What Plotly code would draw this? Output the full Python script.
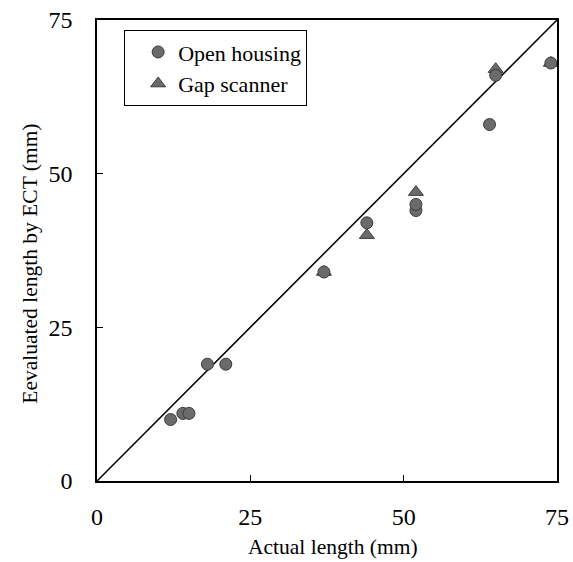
import plotly.graph_objects as go

open_x = [12, 14, 15, 18, 21, 37, 44, 52, 52, 64, 65, 74]
open_y = [10, 11, 11, 19, 19, 34, 42, 44, 45, 58, 66, 68]
gap_x = [37, 44, 52, 65, 74]
gap_y = [34, 40, 47, 67, 68]
line_x = [0, 75]
line_y = [0, 75]
tick_vals = [0, 25, 50, 75]
x_title = "Actual length (mm)"
y_title = "Eevaluated length by ECT (mm)"

FONT = "Liberation Serif"
fig = go.Figure()
fig.add_trace(go.Scatter(x=line_x, y=line_y, mode="lines",
                         line=dict(color="black", width=1.5), showlegend=False,
                         cliponaxis=False))
fig.add_trace(go.Scatter(x=gap_x, y=gap_y, mode="markers", name="Gap scanner",
                         marker=dict(symbol="triangle-up", size=13, color="#6b6b6b",
                                     line=dict(color="#3a3a3a", width=1)),
                         cliponaxis=False))
fig.add_trace(go.Scatter(x=open_x, y=open_y, mode="markers", name="Open housing",
                         marker=dict(symbol="circle", size=12, color="#6b6b6b",
                                     line=dict(color="#3a3a3a", width=1)),
                         cliponaxis=False))

axis_common = dict(range=[0, 75], tickvals=tick_vals, ticks="inside", ticklen=6,
                   tickcolor="black", showline=True, linecolor="black", linewidth=1.5,
                   mirror=True, showgrid=False, zeroline=False, automargin=False,
                   tickfont=dict(family=FONT, size=24, color="black"))
fig.update_xaxes(**axis_common, ticklabelstandoff=13)
fig.update_yaxes(**axis_common, ticklabelstandoff=18)
fig.add_annotation(text=x_title, xref="paper", yref="paper", x=0.513, y=-0.143,
                   xanchor="center", yanchor="middle", showarrow=False,
                   font=dict(family=FONT, size=21.5, color="black"))
fig.add_annotation(text=y_title, xref="paper", yref="paper", x=-0.146, y=0.471,
                   xanchor="center", yanchor="middle", showarrow=False, textangle=-90,
                   font=dict(family=FONT, size=21.5, color="black"))
fig.update_layout(
    width=573, height=562,
    margin=dict(l=97, r=16, t=20, b=81),
    plot_bgcolor="white", paper_bgcolor="white",
    legend=dict(x=0.059, y=0.978, xanchor="left", yanchor="top",
                bordercolor="black", borderwidth=1, bgcolor="white",
                traceorder="reversed", itemwidth=30, indentation=13,
                font=dict(family=FONT, size=22, color="black")),
)
fig.write_html("out.html", config={"displayModeBar": False},
               post_script="document.body.style.margin='0';")
